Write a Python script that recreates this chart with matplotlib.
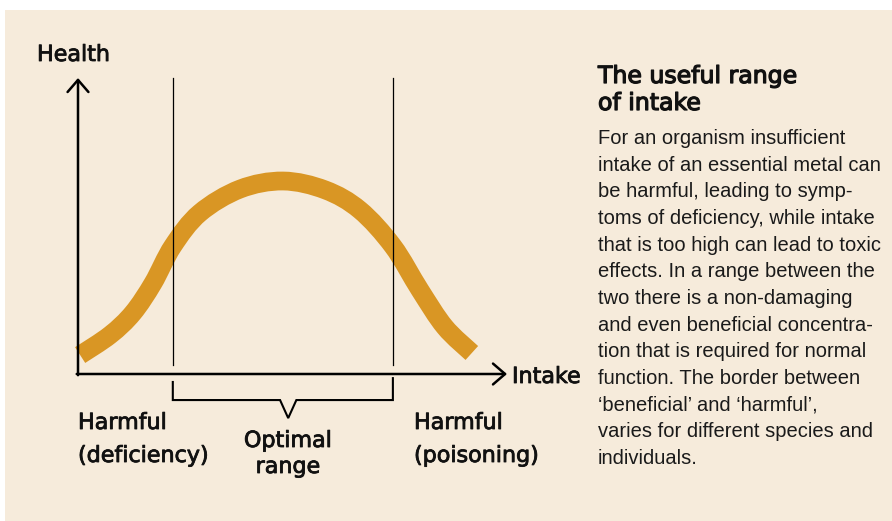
import numpy as np
import matplotlib.pyplot as plt
from matplotlib.patches import Rectangle, PathPatch
from matplotlib.path import Path
import matplotlib.patheffects as pe

# curve (percent of axis length)
intake = [0.5, 7.5, 12.8, 17.5, 22.1, 28.4, 37.8, 47.8, 57.6, 65.7,
          73.4, 79.7, 85.5, 91.8]
health = [6.4, 13.2, 20.6, 30.7, 43.2, 54.4, 62.5, 65.2, 62.2, 55.4,
          43.2, 28.4, 15.9, 7.1]
bounds = [22.1, 73.4]          # limits of the optimal range
notch_x = 49.0

title = "The useful range\nof intake"
body = ["For an organism insufficient",
        "intake of an essential metal can",
        "be harmful, leading to symp-",
        "toms of deficiency, while intake",
        "that is too high can lead to toxic",
        "effects. In a range between the",
        "two there is a non-damaging",
        "and even beneficial concentra-",
        "tion that is required for normal",
        "function. The border between",
        "\u2018beneficial\u2019 and \u2018harmful\u2019,",
        "varies for different species and",
        "individuals."]

BG = "#f6ebdb"
ORANGE = "#d99624"
W, H = 892, 521


def fx(x):
    return x / W


def fy(y):
    return 1 - y / H


def smooth_path(xs, ys):
    # catmull-rom through the points, drawn as cubic bezier segments
    p = np.column_stack([xs, ys])
    verts = [p[0]]
    codes = [Path.MOVETO]
    for i in range(len(p) - 1):
        p0 = p[i - 1] if i > 0 else p[i]
        p3 = p[i + 2] if i + 2 < len(p) else p[i + 1]
        c1 = p[i] + (p[i + 1] - p0) / 6
        c2 = p[i + 1] - (p3 - p[i]) / 6
        verts += [c1, c2, p[i + 1]]
        codes += [Path.CURVE4] * 3
    return Path(verts, codes)


fig = plt.figure(figsize=(W / 100, H / 100), dpi=100)
fig.patch.set_facecolor("white")
fig.patches.append(Rectangle((fx(5), 0), 1, fy(10), transform=fig.transFigure,
                             facecolor=BG, edgecolor="none", zorder=-10))

ax = fig.add_axes([fx(78), fy(374), 429 / W, 296 / H])
ax.set_xlim(0, 100)
ax.set_ylim(0, 100)
ax.axis("off")

curve = PathPatch(smooth_path(intake, health), facecolor="none",
                  edgecolor=ORANGE, lw=13.5, capstyle="butt", zorder=2,
                  clip_on=False)
ax.add_patch(curve)

for b in bounds:
    ax.plot([b, b], [3.0, 100], color="black", lw=0.9, zorder=3, clip_on=False)

# axes with open arrow heads
arrow = dict(arrowstyle="->,head_length=0.58,head_width=0.5", lw=1.8,
             color="black", shrinkA=0, shrinkB=0, mutation_scale=15)
ax.annotate("", xy=(100, 0), xytext=(-0.3, 0), arrowprops=arrow,
            annotation_clip=False, zorder=4)
ax.annotate("", xy=(0, 100), xytext=(0, -0.4), arrowprops=arrow,
            annotation_clip=False, zorder=4)

# bracket under the optimal range
bx = [bounds[0], bounds[0], notch_x - 1.9, notch_x, notch_x + 1.9,
      bounds[1], bounds[1]]
by = [-2.7, -8.8, -8.8, -14.9, -8.8, -8.8, -1.4]
ax.plot(bx, by, color="black", lw=1.5, clip_on=False,
        solid_joinstyle="miter")

lab = dict(family="DejaVu Sans", fontsize=16, color="#111111",
           path_effects=[pe.withStroke(linewidth=0.6, foreground="#111111")])
fig.text(fx(37), fy(61), "Health", va="baseline", **lab)
fig.text(fx(512), fy(383), "Intake", va="baseline", **lab)
fig.text(fx(78), fy(429), "Harmful", va="baseline", **lab)
fig.text(fx(78), fy(462), "(deficiency)", va="baseline", **lab)
fig.text(fx(288), fy(447), "Optimal", va="baseline", ha="center", **lab)
fig.text(fx(288), fy(473), "range", va="baseline", ha="center", **lab)
fig.text(fx(414), fy(429), "Harmful", va="baseline", **lab)
fig.text(fx(414), fy(462), "(poisoning)", va="baseline", **lab)

tit = dict(lab, fontsize=17,
           path_effects=[pe.withStroke(linewidth=0.9, foreground="#111111")])
tl = title.split("\n")
fig.text(fx(598), fy(83), tl[0], va="baseline", **tit)
fig.text(fx(598), fy(110), tl[1], va="baseline", **tit)

for i, line in enumerate(body):
    fig.text(fx(598), fy(144 + i * 26.67), line, va="baseline",
             family="Liberation Sans", fontsize=14.5, color="#1a1a1a")

fig.savefig("out.png", dpi=100, facecolor=fig.get_facecolor())
